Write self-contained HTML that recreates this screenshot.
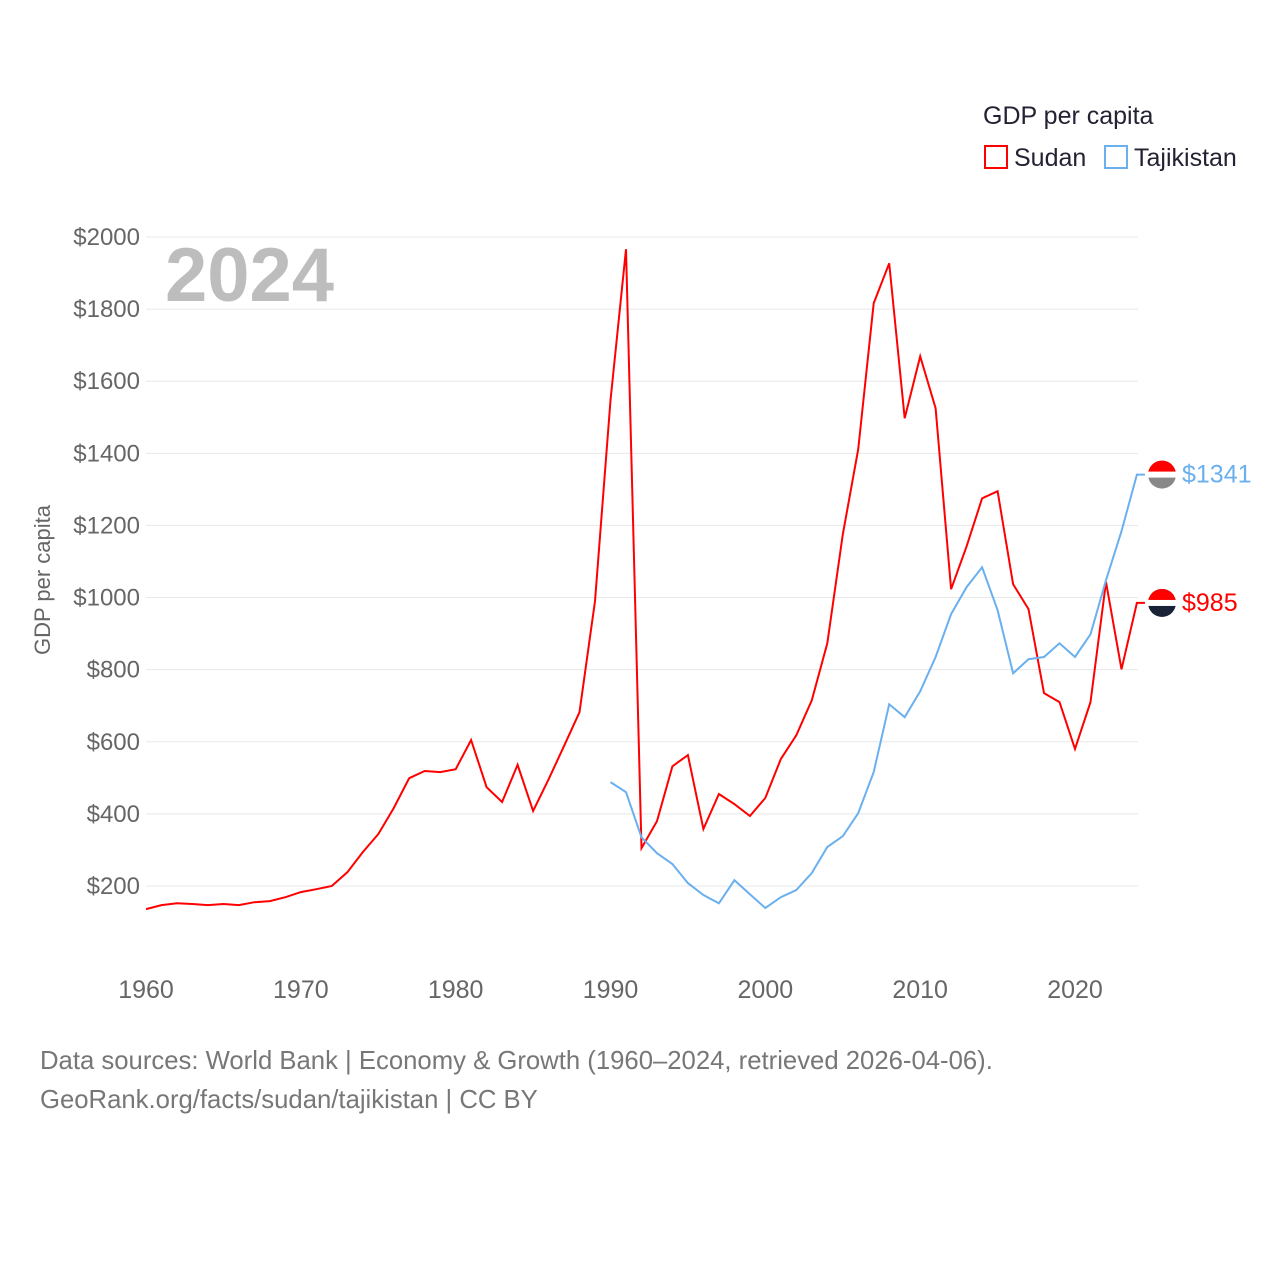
<!DOCTYPE html>
<html><head><meta charset="utf-8"><style>
body{margin:0;background:#fff;font-family:"Liberation Sans",sans-serif}
svg text{font-family:"Liberation Sans",sans-serif}
</style></head><body>
<svg width="1280" height="1280" xmlns="http://www.w3.org/2000/svg">
<g id="grid"></g><g id="yt"></g><g id="xt"></g>
<text x="165" y="301" font-size="76" font-weight="bold" fill="#bdbdbd">2024</text>
<text transform="translate(50,580) rotate(-90)" text-anchor="middle" font-size="22" fill="#666">GDP per capita</text>
<g id="lines"></g>
<text x="983" y="124" font-size="25" fill="#223">GDP per capita</text>
<g><rect x="985" y="146" width="22" height="22" fill="none" stroke="#f00" stroke-width="2"/><text x="1014" y="166" font-size="25" fill="#223">Sudan</text></g>
<g><rect x="1105" y="146" width="22" height="22" fill="none" stroke="#6ab0ef" stroke-width="2"/><text x="1134" y="166" font-size="25" fill="#223">Tajikistan</text></g>
<text x="40" y="1069" font-size="25.7" fill="#777">Data sources: World Bank | Economy &amp; Growth (1960–2024, retrieved 2026-04-06).</text>
<text x="40" y="1108" font-size="25.7" fill="#777">GeoRank.org/facts/sudan/tajikistan | CC BY</text>
</svg>
<script>
const sudanStart=1960;
const sudanValues=[136,147,152,150,147,150,147,155,158,169,183,191,200,238,294,344,416,499,519,516,524,605,474,433,536,408,496,588,682,990,1547,1966,305,380,532,563,358,455,427,394,444,552,618,715,873,1175,1411,1816,1927,1497,1669,1525,1023,1142,1275,1295,1037,968,735,710,580,710,1043,801,985];
const tajStart=1990;
const tajValues=[488,460,335,291,261,208,175,152,216,177,139,169,189,236,308,338,402,516,704,668,740,835,954,1029,1084,965,790,829,835,873,835,898,1048,1184,1341];
const yTicks=[200,400,600,800,1000,1200,1400,1600,1800,2000];
const xTicks=[1960,1970,1980,1990,2000,2010,2020];
const X=y=>146+(y-1960)*929/60;
const Y=v=>958.1-v*0.36056;
const NS="http://www.w3.org/2000/svg";
function mk(t,a,p){const e=document.createElementNS(NS,t);for(const k in a)e.setAttribute(k,a[k]);p.appendChild(e);return e;}
const g=document.getElementById('grid'),yt=document.getElementById('yt'),xt=document.getElementById('xt'),L=document.getElementById('lines');
yTicks.forEach(v=>{
const l=mk('line',{x1:146,x2:1138,y1:Y(v),y2:Y(v),stroke:'#e8e8e8','stroke-width':1},g);


const t=mk('text',{x:140,y:Y(v)+8,'text-anchor':'end','font-size':24,fill:'#666'},yt);t.textContent='$'+v;


});
xTicks.forEach(v=>{
const t=mk('text',{x:X(v),y:998,'text-anchor':'middle','font-size':25,fill:'#666'},xt);t.textContent=v;


});
function line(start,vals,color,name){
let d=vals.map((v,i)=>(i?'L':'M')+X(start+i).toFixed(1)+','+Y(v).toFixed(1)).join(' ');
d+=' L'+(X(start+vals.length-1)+8)+','+Y(vals[vals.length-1]).toFixed(1);
const p=mk('path',{d:d,fill:'none',stroke:color,'stroke-width':2},L);


const last=vals[vals.length-1],yy=Y(last);
const c=mk('circle',{cx:1162,cy:yy,r:14,fill:color==='#f00'?'#1a2238':'#888'},L);


mk('path',{d:`M1148,${yy} A14,14 0 0 1 1176,${yy} Z`,fill:'#f00'},L);
mk('rect',{x:1148,y:yy-3,width:28,height:6,fill:'#fff'},L);
const t=mk('text',{x:1182,y:yy+8,'font-size':25,fill:color},L);t.textContent='$'+last;


}
line(sudanStart,sudanValues,'#f00','sudan-line');
line(tajStart,tajValues,'#6ab0ef','tajikistan-line');
</script>
</body></html>
